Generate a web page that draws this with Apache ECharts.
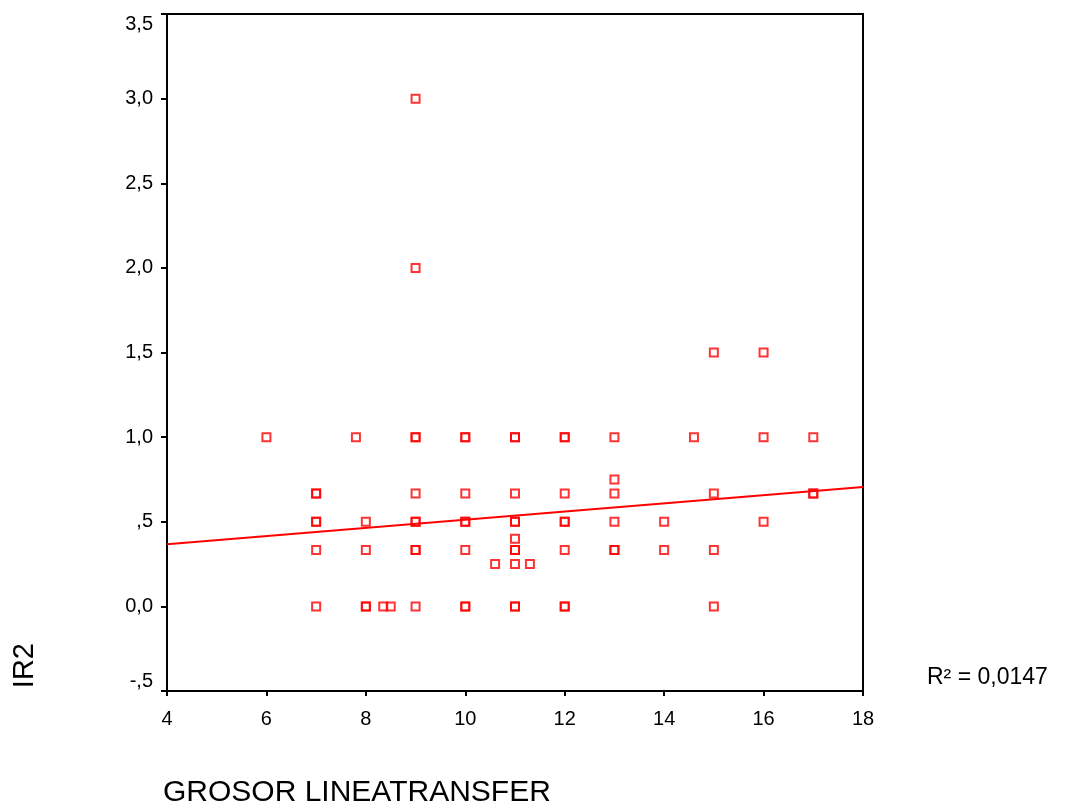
<!DOCTYPE html>
<html>
<head>
<meta charset="utf-8">
<title>IR2 vs GROSOR LINEATRANSFER</title>
<script src="https://cdn.jsdelivr.net/npm/echarts@6/dist/echarts.min.js"></script>
<style>
  html, body { margin: 0; padding: 0; background: #fff; }
  #chart { width: 1069px; height: 807px; }
</style>
</head>
<body>
<div id="chart"></div>
<script>
// datos (x = grosor, y = IR2), repetidos donde el marcador se ve más grueso
var grosor = [6, 7, 7, 7, 7, 7, 7, 7.8, 8, 8, 8, 8, 8.35, 8.5,
  9, 9, 9, 9, 9, 9, 9, 9, 9, 9,
  10, 10, 10, 10, 10, 10, 10, 10, 10.6,
  11, 11, 11, 11, 11, 11, 11, 11, 11, 11, 11, 11.3,
  12, 12, 12, 12, 12, 12, 12, 12,
  13, 13, 13, 13, 13, 13, 14, 14, 14.6,
  15, 15, 15, 15, 16, 16, 16, 17, 17, 17];
var ir2 = [1, 0.667, 0.667, 0.5, 0.5, 0.333, 0, 1, 0.5, 0.333, 0, 0, 0, 0,
  3, 2, 1, 1, 0.667, 0.5, 0.5, 0.333, 0.333, 0,
  1, 1, 0.667, 0.5, 0.5, 0.333, 0, 0, 0.25,
  1, 1, 0.667, 0.5, 0.5, 0.4, 0.333, 0.333, 0.25, 0, 0, 0.25,
  1, 1, 0.667, 0.5, 0.5, 0.333, 0, 0,
  1, 0.75, 0.667, 0.5, 0.333, 0.333, 0.5, 0.333, 1,
  1.5, 0.667, 0.333, 0, 1.5, 1, 0.5, 1, 0.667, 0.667];

// recta de ajuste lineal
var fitIntercept = 0.27;
var fitSlope = 0.0242;
var rSquaredLabel = 'R² = 0,0147';

var xMin = 4, xMax = 18;
var yMin = -0.5, yMax = 3.5;

var font = "'Liberation Sans', Arial, sans-serif";

var chart = echarts.init(document.getElementById('chart'));

var points = grosor.map(function (g, i) { return [g, ir2[i]]; });
var fitLine = [xMin, xMax].map(function (x) { return [x, fitIntercept + fitSlope * x]; });

// formato SPSS: 1,0  ,5  0,0  -,5
function yLabel(v) {
  var s = Math.abs(v).toFixed(1).replace('.', ',');
  if (Math.abs(v) < 1 && v !== 0) s = s.replace(/^0/, '');
  return (v < 0 ? '-' : '') + s;
}

chart.setOption({
  animation: false,
  backgroundColor: '#fff',
  grid: {
    left: 167,
    right: 206,
    top: 14,
    bottom: 116,
    show: true,
    borderColor: '#000',
    borderWidth: 2,
    backgroundColor: 'transparent'
  },
  xAxis: {
    type: 'value',
    min: xMin,
    max: xMax,
    interval: 2,
    axisLine: { show: true, onZero: false, lineStyle: { color: '#000', width: 2 } },
    axisTick: { show: true, inside: false, length: 5, lineStyle: { color: '#000', width: 2 } },
    axisLabel: { color: '#000', fontFamily: font, fontSize: 20, margin: 18 },
    splitLine: { show: false }
  },
  yAxis: {
    type: 'value',
    min: yMin,
    max: yMax,
    interval: 0.5,
    axisLine: { show: true, onZero: false, lineStyle: { color: '#000', width: 2 } },
    axisTick: { show: true, inside: false, length: 6, lineStyle: { color: '#000', width: 2 } },
    axisLabel: {
      color: '#000',
      fontFamily: font,
      fontSize: 20,
      margin: 14,
      formatter: yLabel,
      verticalAlignMinLabel: 'bottom',
      verticalAlignMaxLabel: 'top'
    },
    splitLine: { show: false }
  },
  graphic: [
    {
      type: 'text',
      left: 163,
      top: 778,
      style: { text: 'GROSOR LINEATRANSFER', fill: '#000', font: '30px ' + font }
    },
    {
      type: 'text',
      left: 10,
      top: 643,
      rotation: Math.PI / 2,
      style: { text: 'IR2', fill: '#000', font: '29px ' + font }
    },
    {
      type: 'text',
      left: 927,
      top: 666,
      style: { text: rSquaredLabel, fill: '#000', font: '23px ' + font }
    }
  ],
  series: [
    {
      type: 'line',
      data: fitLine,
      symbol: 'none',
      lineStyle: { color: '#ff0000', width: 2 },
      silent: true,
      z: 2
    },
    {
      type: 'scatter',
      data: points,
      symbol: 'rect',
      symbolSize: 8,
      itemStyle: { color: 'rgba(0,0,0,0)', borderColor: '#ff0000', borderWidth: 2 },
      z: 3
    }
  ]
});
</script>
</body>
</html>
